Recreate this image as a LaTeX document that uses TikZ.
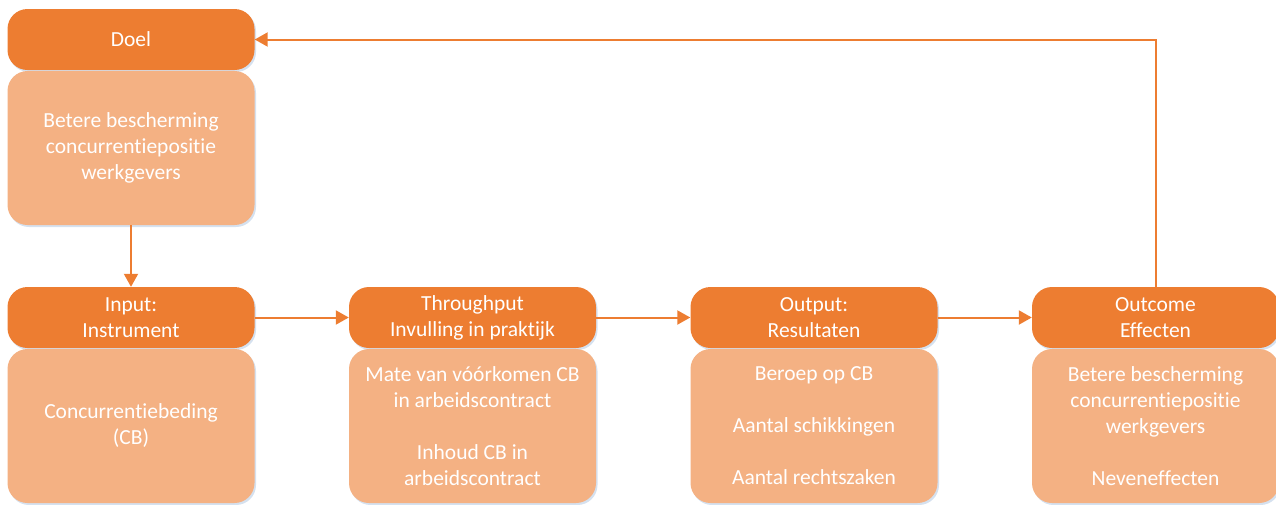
\documentclass[tikz,border=0pt]{standalone}
\usepackage{fontspec}
\setmainfont{Carlito}[Ligatures=NoCommon]
\usetikzlibrary{arrows.meta,shadows}
\definecolor{headorange}{HTML}{ED7D31}
\definecolor{bodyorange}{HTML}{F4B183}
\definecolor{shadowblue}{HTML}{D5E1EF}
\tikzset{
  box/.style = {rounded corners = 20pt, text = white, align = center,
                minimum width = 247pt, inner sep = 0pt,
                font = \fontsize{21.5}{26}\selectfont,
                drop shadow = {shadow xshift = 1.5pt, shadow yshift = -2pt, fill = shadowblue, opacity = 1}},
  head/.style = {box, fill = headorange, minimum height = 61pt},
  body/.style = {box, fill = bodyorange, minimum height = 154pt},
  flow/.style = {draw = headorange, line width = 2pt, -{Triangle[length = 13pt, width = 14pt]}}
}
\begin{document}
\begin{tikzpicture}[x = 1pt, y = -1pt]
\useasboundingbox (0,0) rectangle (1276,504);
\pgfmathsetmacro\colstep{341.5};
% doel
\node[head] (doel) at (131,39.5) {Doel};
\node[body] (doelbody) at (131,148) {Betere bescherming\\concurrentiepositie\\werkgevers};
% input, throughput, output, outcome
\node[head] (input) at (131,317.5) {Input:\\Instrument};
\node[body] (inputbody) at (131,426) {Concurrentiebeding\\(CB)};
\node[head] (through) at (131+\colstep,317.5) {Throughput\\Invulling in praktijk};
\node[body] (throughbody) at (131+\colstep,426) {Mate van v\'o\'orkomen CB\\in arbeidscontract\\[26pt]Inhoud CB in\\arbeidscontract};
\node[head] (output) at (131+2*\colstep,317.5) {Output:\\Resultaten};
\node[body] (outputbody) at (131+2*\colstep,426) {Beroep op CB\\[26pt]Aantal schikkingen\\[26pt]Aantal rechtszaken};
\node[head] (outcome) at (131+3*\colstep,317.5) {Outcome\\Effecten};
\node[body] (outcomebody) at (131+3*\colstep,426) {Betere bescherming\\concurrentiepositie\\werkgevers\\[26pt]Neveneffecten};
% pijlen
\draw[flow] (doelbody) -- (input);
\draw[flow] (input) -- (through);
\draw[flow] (through) -- (output);
\draw[flow] (output) -- (outcome);
\draw[flow] (outcome.north) |- (doel.east);
\end{tikzpicture}
\end{document}
